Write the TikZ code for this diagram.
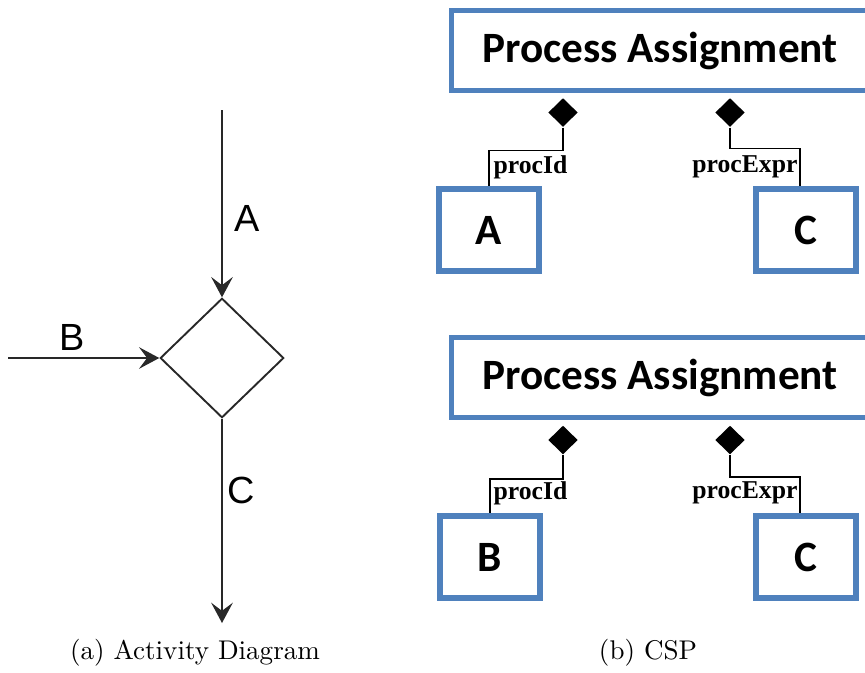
\documentclass[tikz,border=0pt]{standalone}
\usepackage{fontspec}
\usepackage{tikz}
\usepackage{xcolor}
\usetikzlibrary{positioning,arrows.meta,calc,shapes.geometric}
\newfontfamily\calfont{Carlito}
\newfontfamily\arialfont{Liberation Sans}
\newfontfamily\timesfont{Liberation Serif}
\definecolor{boxblue}{RGB}{79,129,189}
\definecolor{flowgray}{RGB}{40,40,40}
\tikzset{
    decision/.style={
        diamond,
        draw=flowgray,
        line width=0.7pt,
        minimum width=45.7pt,
        minimum height=44.2pt,
        inner sep=0pt
    },
    title/.style={
        rectangle,
        draw=boxblue,
        line width=2.2pt,
        minimum width=162pt,
        minimum height=29.6pt,
        inner sep=0pt,
        font=\calfont\bfseries\fontsize{16}{18}\selectfont
    },
    part/.style={
        rectangle,
        draw=boxblue,
        line width=2.2pt,
        minimum width=37.2pt,
        minimum height=30.2pt,
        inner sep=0pt,
        font=\calfont\bfseries\fontsize{16}{18}\selectfont
    },
    comp/.style={
        diamond,
        fill=black,
        minimum width=11pt,
        minimum height=10.7pt,
        inner sep=0pt
    },
    role/.style={inner sep=0pt, font=\timesfont\bfseries\fontsize{9.5}{11}\selectfont},
    flowlab/.style={inner sep=0pt, font=\arialfont\fontsize{14}{16}\selectfont},
    arr/.style={-{Stealth[length=7.5pt,width=8pt,inset=3pt]},flowgray,line width=0.7pt},
    link/.style={black,line width=0.6pt}
}

\begin{document}
\begin{tikzpicture}[x=0.013cm,y=-0.013cm]
\clip (0,0) rectangle (865,672);

% (a) activity diagram
\node[decision] (dec) at (222,358) {};
\coordinate (inA) at (222,110);
\coordinate (inB) at (8,358);
\coordinate (outC) at (222,623);
\draw[arr] (inA) -- (dec.north);
\draw[arr] (inB) -- (dec.west);
\draw[arr] (dec.south) -- (outC);
\node[flowlab] (labA) at (247,218) {A};
\node[flowlab] (labB) at (72,337) {B};
\node[flowlab] (labC) at (241,490) {C};

% (b) CSP, first assignment (right side runs off the page)
\node[title] (pa1) at (670.5,50.5) {Process Assignment\kern7.7pt};
\node[comp]  (d11) at (563,112.5) {};
\node[comp]  (d12) at (730,112.5) {};
\node[part]  (A) at (489,230) {A};
\node[part]  (C1) at (806,230) {C};
\draw[link] (d11.south) -- ++(0,23) -| (A.north);
\draw[link] (d12.south) -- ++(0,21) -| ($(C1.north)+(-6,0)$);
\node[role,anchor=west] (id1) at (493,167) {procId};
\node[role,anchor=east] (ex1) at (798,167) {procExpr};

% (b) CSP, second assignment
\node[title] (pa2) at (670.5,377.5) {Process Assignment\kern7.7pt};
\node[comp]  (d21) at (563,440) {};
\node[comp]  (d22) at (730,440) {};
\node[part]  (B) at (490,557) {B};
\node[part]  (C2) at (806,557) {C};
\draw[link] (d21.south) -- ++(0,24) -| (B.north);
\draw[link] (d22.south) -- ++(0,22) -| ($(C2.north)+(-6,0)$);
\node[role,anchor=west] (id2) at (493,493) {procId};
\node[role,anchor=east] (ex2) at (798,493) {procExpr};

% captions
\node (capA) at (195,653) {(a) Activity Diagram};
\node (capB) at (648,653) {(b) CSP};
\end{tikzpicture}
\end{document}
